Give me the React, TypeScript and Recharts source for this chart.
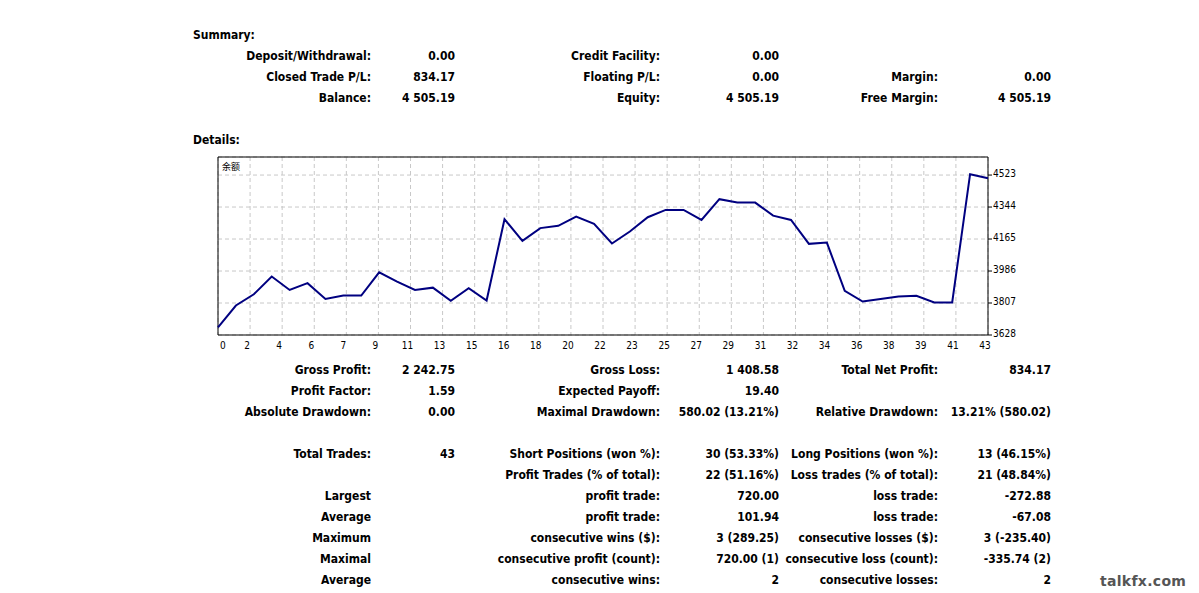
import React from "react";
import {
  LineChart,
  Line,
  XAxis,
  YAxis,
  CartesianGrid,
  ReferenceArea
} from "recharts";

// balance after each closed trade (trade 0 = starting balance)
const balance = [
  3671, 3793, 3856, 3955, 3880, 3918, 3830, 3849, 3849, 3979,
  3927, 3880, 3893, 3819, 3890, 3821, 4276, 4155, 4226, 4239,
  4291, 4250, 4140, 4207, 4287, 4328, 4328, 4272, 4388, 4369,
  4369, 4296, 4272, 4138, 4145, 3875, 3815, 3830, 3843, 3847,
  3810, 3810, 4528, 4505
];

const xTickLabels = [
  "0", "2", "4", "6", "7", "9", "11", "13", "15", "16", "18", "20", "22",
  "23", "25", "27", "29", "31", "32", "34", "36", "38", "39", "41", "43"
];

const yTicks = [3628, 3807, 3986, 4165, 4344, 4523];

const summaryRows = [
  ["Deposit/Withdrawal:", "0.00", "Credit Facility:", "0.00", "", ""],
  ["Closed Trade P/L:", "834.17", "Floating P/L:", "0.00", "Margin:", "0.00"],
  ["Balance:", "4 505.19", "Equity:", "4 505.19", "Free Margin:", "4 505.19"]
];

const detailRows = [
  ["Gross Profit:", "2 242.75", "Gross Loss:", "1 408.58", "Total Net Profit:", "834.17"],
  ["Profit Factor:", "1.59", "Expected Payoff:", "19.40", "", ""],
  ["Absolute Drawdown:", "0.00", "Maximal Drawdown:", "580.02 (13.21%)", "Relative Drawdown:", "13.21% (580.02)"],
  ["", "", "", "", "", ""],
  ["Total Trades:", "43", "Short Positions (won %):", "30 (53.33%)", "Long Positions (won %):", "13 (46.15%)"],
  ["", "", "Profit Trades (% of total):", "22 (51.16%)", "Loss trades (% of total):", "21 (48.84%)"],
  ["Largest", "", "profit trade:", "720.00", "loss trade:", "-272.88"],
  ["Average", "", "profit trade:", "101.94", "loss trade:", "-67.08"],
  ["Maximum", "", "consecutive wins ($):", "3 (289.25)", "consecutive losses ($):", "3 (-235.40)"],
  ["Maximal", "", "consecutive profit (count):", "720.00 (1)", "consecutive loss (count):", "-335.74 (2)"],
  ["Average", "", "consecutive wins:", "2", "consecutive losses:", "2"]
];

const colRight = [371, 455, 660, 779, 938, 1051];

const data = balance.map((v, i) => ({ trade: i, balance: v }));
const xTicks = xTickLabels.map((_, k) => (k * 43) / 24);

const font = '"DejaVu Sans Condensed", "Liberation Sans", sans-serif';

function Row({ cells, y }: { cells: string[]; y: number }) {
  return (
    <>
      {cells.map((c, i) =>
        c ? (
          <div
            key={i}
            style={{
              position: "absolute",
              right: 1199 - colRight[i],
              top: y - 7,
              lineHeight: "16px",
              whiteSpace: "nowrap"
            }}
          >
            {c}
          </div>
        ) : null
      )}
    </>
  );
}

const XTick = (props: any) => {
  const { x, y, index } = props;
  return (
    <text
      x={index === 0 ? x + 2 : x - 3}
      y={y + 12}
      textAnchor={index === 0 ? "start" : "middle"}
      fontSize={10}
      fontWeight="normal"
      fontFamily={font}
      fill="#000"
    >
      {xTickLabels[index]}
    </text>
  );
};

const YTick = (props: any) => {
  const { x, y, payload } = props;
  return (
    <text
      x={x}
      y={y + 2}
      textAnchor="start"
      fontSize={10}
      fontWeight="normal"
      fontFamily={font}
      fill="#000"
    >
      {payload.value}
    </text>
  );
};

export default function App() {
  return (
    <div
      style={{
        position: "absolute",
        left: 0,
        top: 0,
        width: 1199,
        height: 593,
        background: "#fff",
        fontFamily: font,
        fontWeight: "bold",
        fontSize: 12,
        color: "#000",
        overflow: "hidden"
      }}
    >
      <div style={{ position: "absolute", left: 193, top: 27, lineHeight: "16px" }}>Summary:</div>
      {summaryRows.map((r, i) => (
        <Row key={i} cells={r} y={55 + i * 21} />
      ))}
      <div style={{ position: "absolute", left: 193, top: 132, lineHeight: "16px" }}>Details:</div>

      <div style={{ position: "absolute", left: 210, top: 150 }}>
        <LineChart
          width={830}
          height={210}
          data={data}
          margin={{ top: 7, right: 12, bottom: 5, left: 8 }}
        >
          <CartesianGrid stroke="#c8c8c8" strokeDasharray="4 3" />
          <XAxis
            dataKey="trade"
            type="number"
            domain={[0, 43]}
            ticks={xTicks}
            interval={0}
            axisLine={false}
            tickLine={false}
            tickSize={0}
            tick={XTick}
            height={20}
          />
          <YAxis
            orientation="right"
            type="number"
            domain={[3628, 4624]}
            ticks={yTicks}
            interval={0}
            allowDataOverflow
            axisLine={false}
            tickLine={{ stroke: "#000" }}
            tickSize={4}
            tickMargin={1}
            tick={YTick}
            width={40}
          />
          <ReferenceArea
            x1={0}
            x2={43}
            y1={3628}
            y2={4624}
            fill="none"
            stroke="#000"
            strokeWidth={1}
            fillOpacity={0}
          />
          <Line
            type="linear"
            dataKey="balance"
            stroke="#000080"
            strokeWidth={2}
            dot={false}
            isAnimationActive={false}
          />
        </LineChart>
        <div
          style={{
            position: "absolute",
            left: 12,
            top: 10,
            fontSize: 9,
            fontWeight: "normal",
            fontFamily: '"Noto Sans CJK SC", sans-serif'
          }}
        >
          余额
        </div>
      </div>

      {detailRows.map((r, i) => (
        <Row key={i} cells={r} y={369 + i * 21} />
      ))}

      <div
        style={{
          position: "absolute",
          left: 1100,
          top: 573,
          fontFamily: '"DejaVu Sans", sans-serif',
          fontWeight: "bold",
          fontSize: 14,
          letterSpacing: 0.3,
          color: "#555",
          lineHeight: "16px"
        }}
      >
        talkfx.com
      </div>
    </div>
  );
}
